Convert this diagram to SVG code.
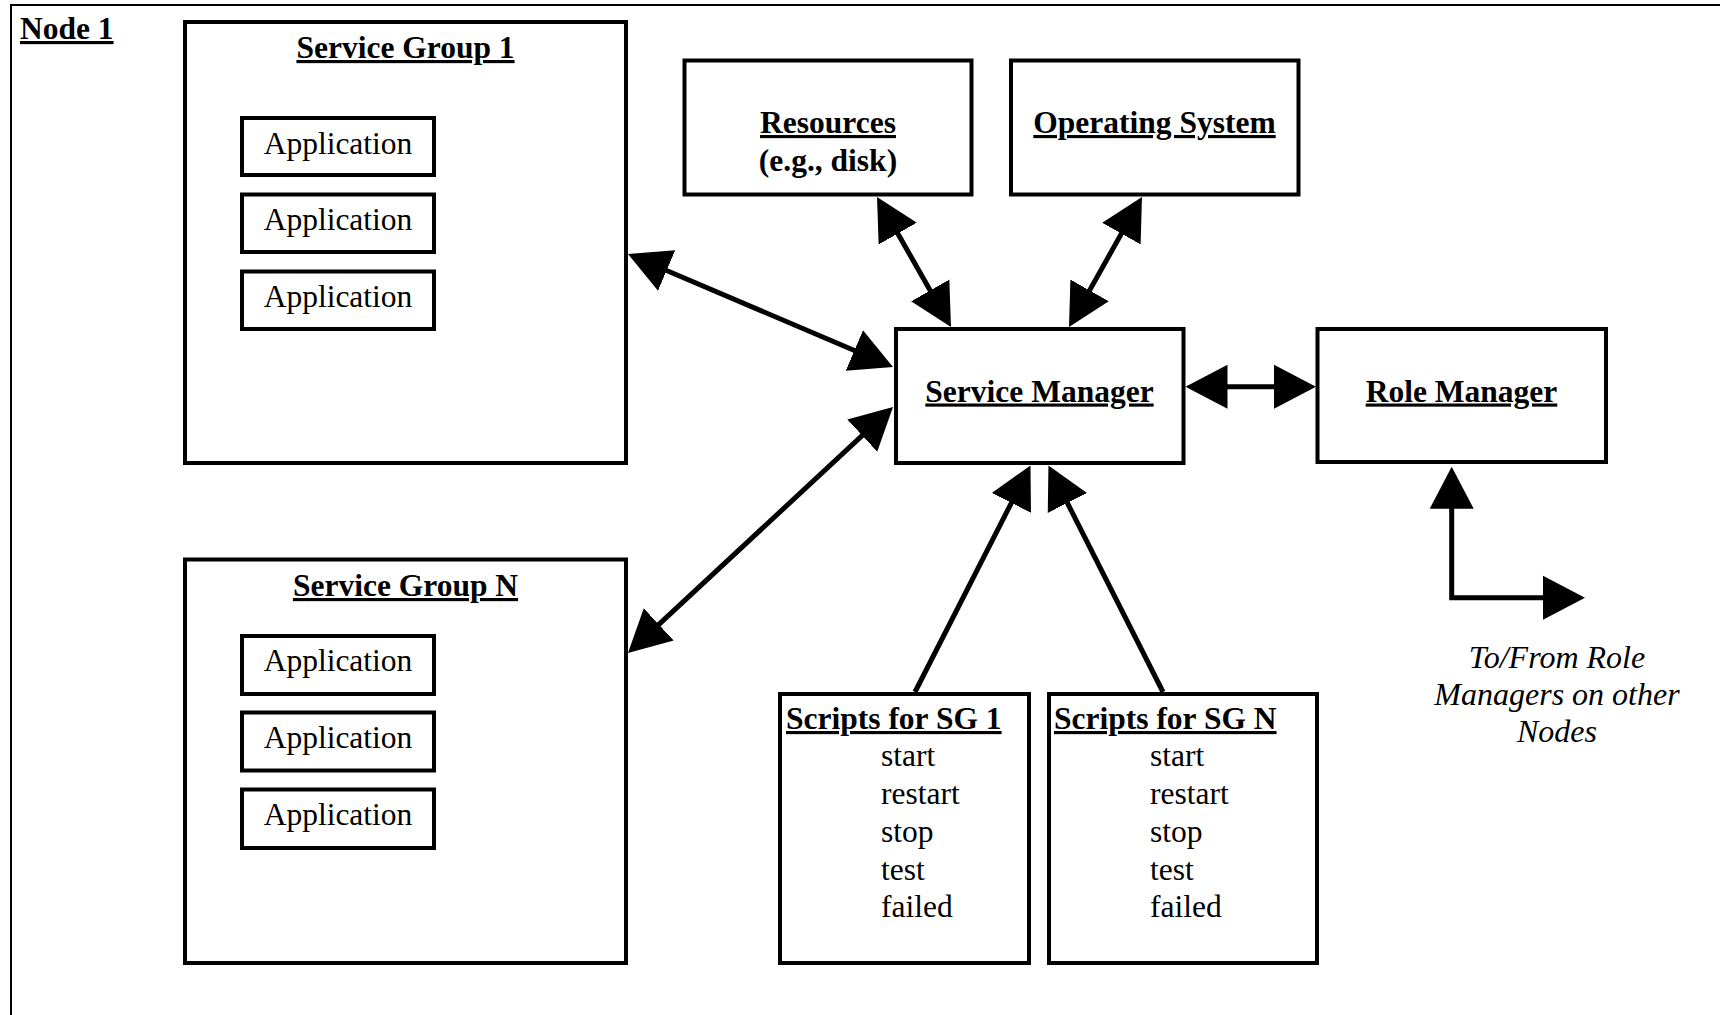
<svg xmlns="http://www.w3.org/2000/svg" width="1720" height="1015" viewBox="0 0 1720 1015">
  <style>
    text { font-family: "Liberation Serif", "Times New Roman", serif; font-size: 31.5px; fill: #000; }
    .b { font-weight: bold; }
    .u { text-decoration: underline; }
    .c { text-anchor: middle; }
    .i { font-style: italic; font-size: 32px; }
    .box { fill: #fff; stroke: #000; stroke-width: 4; }
    .conn { fill: none; stroke: #000; stroke-width: 5; }
  </style>
  <defs>
    <marker id="head" markerUnits="userSpaceOnUse" markerWidth="44" markerHeight="46" viewBox="0 -23 44 46" refX="2" refY="0" orient="auto">
      <path d="M0,-22 L42,0 L0,22 Z" fill="#000"/>
    </marker>
    <marker id="headStart" markerUnits="userSpaceOnUse" markerWidth="44" markerHeight="46" viewBox="0 -23 44 46" refX="2" refY="0" orient="auto-start-reverse">
      <path d="M0,-22 L42,0 L0,22 Z" fill="#000"/>
    </marker>
  </defs>

  <rect width="1720" height="1015" fill="#fff"/>

  <!-- node frame (open on the right and bottom) -->
  <g id="node1">
    <path d="M11,1015 V5 H1720" fill="none" stroke="#000" stroke-width="2"/>
    <text x="20" y="39" class="b u">Node 1</text>
  </g>

  <g id="service-group-1">
    <rect class="box" x="185" y="22" width="441" height="441"/>
    <text x="405.5" y="58" class="b u c">Service Group 1</text>
    <rect class="box" x="242" y="118" width="192" height="57"/>
    <text x="338" y="154" class="c">Application</text>
    <rect class="box" x="242" y="194.5" width="192" height="57.5"/>
    <text x="338" y="230" class="c">Application</text>
    <rect class="box" x="242" y="271.5" width="192" height="57.5"/>
    <text x="338" y="306.5" class="c">Application</text>
  </g>

  <g id="service-group-n">
    <rect class="box" x="185" y="559.5" width="441" height="403.5"/>
    <text x="405.5" y="596" class="b u c">Service Group N</text>
    <rect class="box" x="242" y="636" width="192" height="58"/>
    <text x="338" y="670.5" class="c">Application</text>
    <rect class="box" x="242" y="712.5" width="192" height="58"/>
    <text x="338" y="747.5" class="c">Application</text>
    <rect class="box" x="242" y="789.5" width="192" height="58.5"/>
    <text x="338" y="825" class="c">Application</text>
  </g>

  <g id="resources">
    <rect class="box" x="684.5" y="60.5" width="287" height="134"/>
    <text x="828" y="133" class="b u c">Resources</text>
    <text x="828" y="171" class="b c">(e.g., disk)</text>
  </g>

  <g id="operating-system">
    <rect class="box" x="1011" y="60.5" width="287.5" height="134"/>
    <text x="1154.5" y="133" class="b u c">Operating System</text>
  </g>

  <g id="service-manager">
    <rect class="box" x="896" y="329" width="287.5" height="134"/>
    <text x="1039.5" y="401.5" class="b u c">Service Manager</text>
  </g>

  <g id="role-manager">
    <rect class="box" x="1317.5" y="329" width="288.5" height="133"/>
    <text x="1461.5" y="401.5" class="b u c">Role Manager</text>
  </g>

  <g id="scripts-sg1">
    <rect class="box" x="780" y="694" width="249" height="269"/>
    <text x="786" y="729" class="b u">Scripts for SG 1</text>
    <text x="881" y="766">start</text>
    <text x="881" y="804">restart</text>
    <text x="881" y="842">stop</text>
    <text x="881" y="880">test</text>
    <text x="881" y="917">failed</text>
  </g>

  <g id="scripts-sgn">
    <rect class="box" x="1049" y="694" width="268" height="269"/>
    <text x="1054" y="729" class="b u">Scripts for SG N</text>
    <text x="1150" y="766">start</text>
    <text x="1150" y="804">restart</text>
    <text x="1150" y="842">stop</text>
    <text x="1150" y="880">test</text>
    <text x="1150" y="917">failed</text>
  </g>

  <g id="other-nodes-label">
    <text x="1557" y="668" class="i c">To/From Role</text>
    <text x="1557" y="705" class="i c">Managers on other</text>
    <text x="1557" y="742" class="i c">Nodes</text>
  </g>

  <g id="connectors">
    <!-- service groups <-> service manager -->
    <line class="conn" x1="664.8" y1="269.7" x2="856.2" y2="351.3" marker-start="url(#headStart)" marker-end="url(#head)"/>
    <line class="conn" x1="657.3" y1="625.8" x2="863.7" y2="434.2" marker-start="url(#headStart)" marker-end="url(#head)"/>
    <!-- resources / OS <-> service manager -->
    <line class="conn" x1="896.8" y1="231.8" x2="931.2" y2="292.2" marker-start="url(#headStart)" marker-end="url(#head)"/>
    <line class="conn" x1="1122.4" y1="231.9" x2="1088.6" y2="292.1" marker-start="url(#headStart)" marker-end="url(#head)"/>
    <!-- service manager <-> role manager -->
    <line class="conn" x1="1225.5" y1="386.7" x2="1276" y2="386.7" stroke-width="6" marker-start="url(#headStart)" marker-end="url(#head)"/>
    <!-- scripts -> service manager -->
    <line class="conn" x1="915" y1="692" x2="1012.3" y2="501.1" marker-end="url(#head)"/>
    <line class="conn" x1="1163" y1="692" x2="1066.5" y2="501.2" marker-end="url(#head)"/>
    <!-- role manager <-> other nodes -->
    <path class="conn" d="M1451.7,506.7 V597.7 H1545" marker-start="url(#headStart)" marker-end="url(#head)"/>
  </g>
</svg>
